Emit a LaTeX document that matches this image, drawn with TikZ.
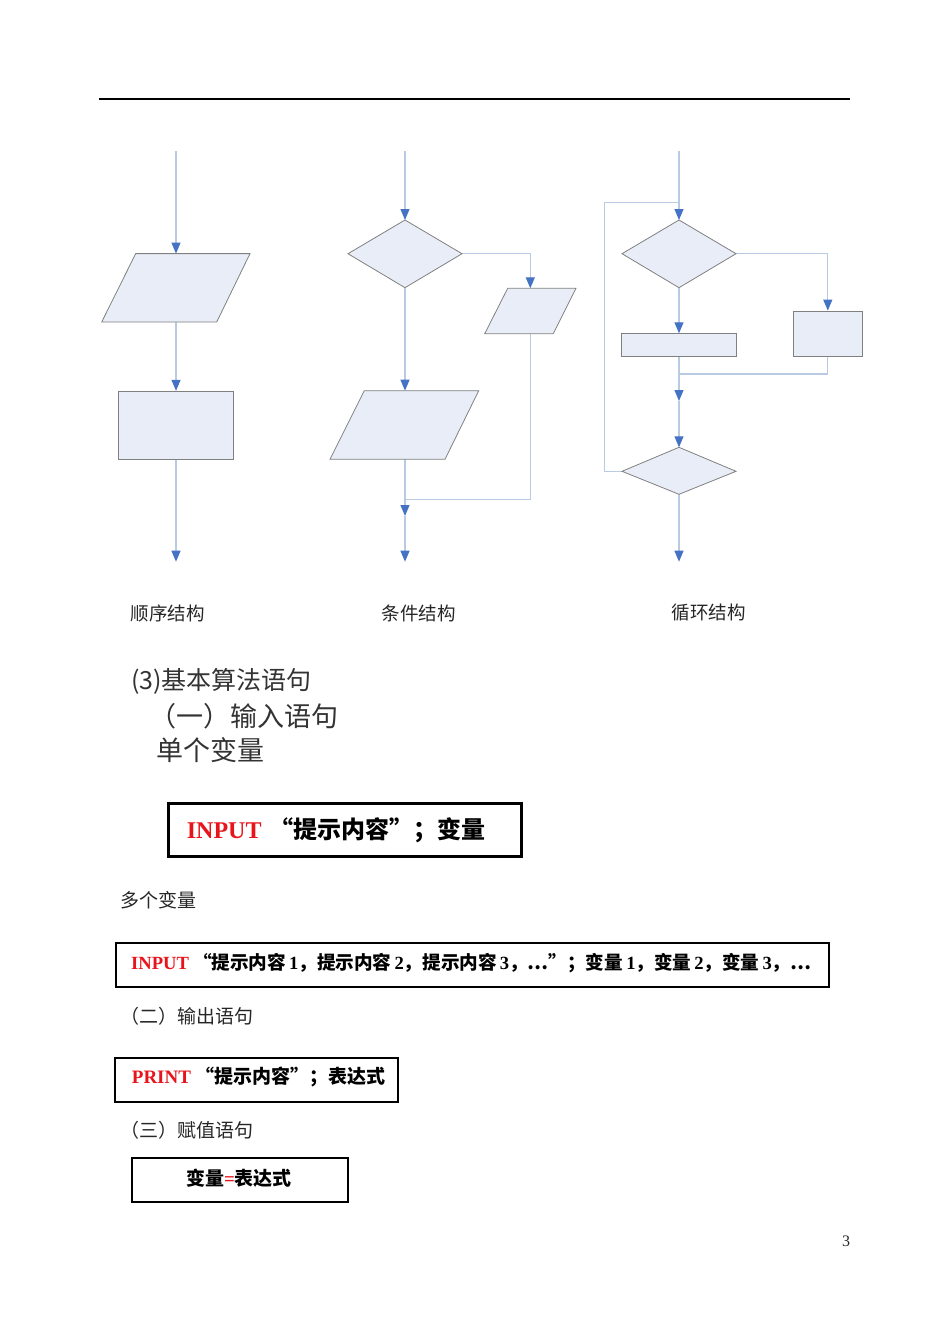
\documentclass[tikz,border=0pt]{standalone}
\usepackage{fontspec}
\setmainfont{Liberation Serif}
\newfontfamily\cjk{Noto Sans CJK SC}
\usetikzlibrary{arrows.meta}
\definecolor{flowline}{HTML}{B9CAE3}
\definecolor{tipblue}{HTML}{4472C4}
\definecolor{shapefill}{HTML}{E8EDF7}
\definecolor{shapeedge}{HTML}{808080}
\definecolor{txtgray}{HTML}{262626}
\definecolor{shotgray}{HTML}{333333}
\definecolor{kwred}{HTML}{E8141B}
\newcommand\zhb[1]{{\cjk\bfseries #1}}
\newcommand\kw[1]{{\bfseries\textcolor{kwred}{#1}}}
\tikzset{
 flow/.style={draw=flowline, line width=1.1pt},
 arr/.style={flow, -{Triangle[length=11pt,width=9pt,color=tipblue]}},
 shp/.style={draw=shapeedge, fill=shapefill, line width=0.8pt},
 rbox/.style={shp, rectangle, inner sep=0pt},
 captext/.style={font={\cjk\fontsize{18.5}{22}\selectfont}, text=txtgray, inner sep=0pt},
 shottext/.style={font={\cjk\fontsize{25}{30}\selectfont}, text=shotgray, inner sep=0pt, anchor=west},
 shotbig/.style={shottext, font={\cjk\fontsize{27}{30}\selectfont}},
 headtext/.style={font={\cjk\fontsize{19}{22}\selectfont}, text=txtgray, inner sep=0pt, anchor=west},
 codebox/.style={draw=black, rectangle, inner sep=0pt},
 codetext/.style={inner sep=0pt, anchor=west, text=black},
}
\begin{document}
\begin{tikzpicture}[x=1pt,y=-1pt]
\useasboundingbox (0,0) rectangle (950,1342);
% top rule
\draw[line width=1.2pt] (99,99) -- (850,99);

% ---------- sequence structure ----------
\coordinate (s0) at (176,151);
\coordinate (p1t) at (176,253.6);
\coordinate (p1b) at (176,322);
\coordinate (s9) at (176,561.7);
\node[rbox, minimum width=115pt, minimum height=68pt] (r1) at (176,425.2) {};
\draw[arr] (s0) -- (p1t);
\draw[arr] (p1b) -- (r1.north);
\draw[arr] (r1.south) -- (s9);
\draw[shp] (135.7,253.6) -- (250,253.6) -- (216.7,322) -- (101.7,322) -- cycle;

% ---------- conditional structure ----------
\coordinate (c0) at (405,151);
\coordinate (d1t) at (405,220);
\coordinate (d1r) at (462,253.7);
\coordinate (d1b) at (405,287.7);
\coordinate (d1l) at (348,253.7);
\coordinate (p2t) at (530.3,288.3);
\coordinate (p2b) at (530.3,333.7);
\coordinate (p3t) at (405,390.7);
\coordinate (p3b) at (405,459.3);
\coordinate (cj) at (405,499.3);
\coordinate (cm) at (405,516);
\coordinate (c9) at (405,561.7);
\draw[arr] (c0) -- (d1t);
\draw[arr] (d1r) -| (p2t);
\draw[flow] (p2b) |- (cj);
\draw[arr] (d1b) -- (p3t);
\draw[arr] (p3b) -- (cm);
\draw[arr] (cm) -- (c9);
\draw[shp] (d1t) -- (d1r) -- (d1b) -- (d1l) -- cycle;
\draw[shp] (507.7,288.3) -- (576,288.3) -- (553.3,333.7) -- (484.7,333.7) -- cycle;
\draw[shp] (364.3,390.7) -- (478.7,390.7) -- (445,459.3) -- (330,459.3) -- cycle;

% ---------- loop structure ----------
\coordinate (l0) at (679,151);
\coordinate (lk) at (679,202.3);
\coordinate (lc) at (604.3,202.3);
\coordinate (d2t) at (679,220);
\coordinate (d2r) at (736,253.7);
\coordinate (d2b) at (679,287.7);
\coordinate (d2l) at (622,253.7);
\node[rbox, minimum width=69pt, minimum height=45.7pt] (r2) at (827.8,333.85) {};
\node[rbox, minimum width=115pt, minimum height=23pt] (r3) at (679,345.2) {};
\coordinate (lj) at (679,374);
\coordinate (lm) at (679,401);
\coordinate (d3t) at (679,447.3);
\coordinate (d3r) at (736,471.3);
\coordinate (d3b) at (679,494.3);
\coordinate (d3l) at (622,471.3);
\coordinate (l9) at (679,561.7);
\draw[arr] (l0) -- (d2t);
\draw[arr] (d2r) -| (r2.north);
\draw[arr] (d2b) -- (r3.north);
\draw[flow] (r2.south) |- (lj);
\draw[arr] (r3.south) -- (lm);
\draw[arr] (lm) -- (d3t);
\draw[flow] (d3l) -| (lc) -- (lk);
\draw[arr] (d3b) -- (l9);
\draw[shp] (d2t) -- (d2r) -- (d2b) -- (d2l) -- cycle;
\draw[shp] (d3t) -- (d3r) -- (d3b) -- (d3l) -- cycle;

% captions
\node[captext] (t1) at (167.5,613) {顺序结构};
\node[captext] (t2) at (418.5,613) {条件结构};
\node[captext] (t3) at (708.5,613) {循环结构};

% screenshot headings
\node[shottext] (h1) at (131,681.7) {(3)基本算法语句};
\node[shotbig] (h2) at (149,716.7) {（一）输入语句};
\node[shotbig] (h3) at (156,750) {单个变量};

% box 1
\node[codebox, line width=3pt, minimum width=353pt, minimum height=53pt] (b1) at (345,830) {};
\node[codetext, font={\fontsize{24}{28}\selectfont}] (b1t) at (186.7,830)
  {\kw{INPUT}\hspace{8pt}\zhb{“提示内容”；变量}};

% multiple variables
\node[headtext] (h4) at (120,900) {多个变量};
\node[codebox, line width=2.5pt, minimum width=713pt, minimum height=44pt] (b2) at (472.5,965) {};
\node[codetext, font={\fontsize{18.6}{22}\selectfont}] (b2t) at (131,963)
  {\kw{INPUT}\hspace{4pt}\zhb{“提示内容}\,{\bfseries 1}\zhb{，提示内容}\,{\bfseries 2}\zhb{，提示内容}\,{\bfseries 3}\zhb{，…”；变量}\,{\bfseries 1}\zhb{，变量}\,{\bfseries 2}\zhb{，变量}\,{\bfseries 3}\zhb{，…}};

% output
\node[headtext] (h5) at (120,1016) {（二）输出语句};
\node[codebox, line width=2pt, minimum width=283.3pt, minimum height=43.4pt] (b3) at (256.7,1080) {};
\node[codetext, font={\fontsize{19}{22}\selectfont}] (b3t) at (131.7,1076.7)
  {\kw{PRINT}\hspace{4pt}\zhb{“提示内容”；表达式}};

% assignment
\node[headtext] (h6) at (120,1130) {（三）赋值语句};
\node[codebox, line width=2pt, minimum width=216.6pt, minimum height=44pt] (b4) at (240,1180.3) {};
\node[inner sep=0pt, font={\fontsize{19}{22}\selectfont}] (b4t) at (239,1178.3)
  {\zhb{变量}\kw{=}\zhb{表达式}};

% page number
\node[inner sep=0pt, font={\fontsize{16}{18}\selectfont}, text=txtgray] (pg) at (846,1241) {3};
\end{tikzpicture}
\end{document}
